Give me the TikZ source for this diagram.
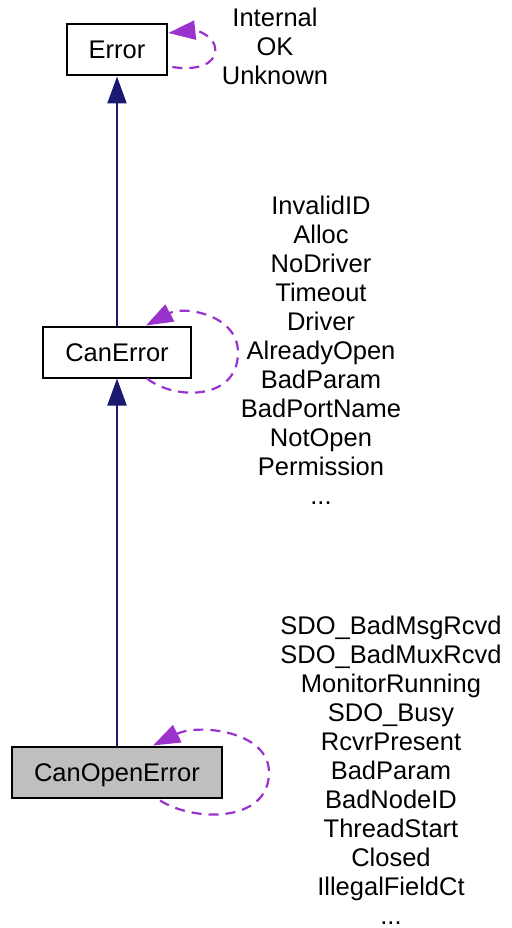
\documentclass[tikz,border=0pt]{standalone}
\usepackage{fontspec}
\setmainfont{Liberation Sans}
\usetikzlibrary{arrows.meta,calc}
\definecolor{inhblue}{HTML}{191970}
\definecolor{usepurple}{HTML}{9A32CD}
\definecolor{boxgray}{HTML}{BFBFBF}
\tikzset{every node/.style={font=\fontsize{25.5}{29}\selectfont},
  classbox/.style={draw, line width=2pt, rectangle, minimum height=51pt,
    inner xsep=22pt, text height=18pt, text depth=0pt},
  inherit/.style={inhblue, line width=2.2pt, -{Triangle[length=27pt,width=19pt]}},
  uses/.style={usepurple, line width=2.2pt, dash pattern=on 10pt off 7pt,
    -{Triangle[length=27pt,width=19pt]}},
  members/.style={align=center, anchor=base, inner sep=0pt}}

\begin{document}
\begin{tikzpicture}[x=1pt, y=-1pt]

           \useasboundingbox (0,0) rectangle (511,928);

           \node (error) [classbox] at (117,50) {Error};
           \node (canerror) [classbox] at (117,352) {CanError};
           \node (canopen) [classbox, fill=boxgray] at (117,772) {CanOpenError};

           \draw[inherit] (canerror) -- (error);
           \draw[inherit] (canopen) -- (canerror);

           % enum members (placed by the baseline of their last line)
           \draw[uses] ($(error.east)+(4,17)$) .. controls +(25,4) and +(0,14) .. ++(43,-17)
             .. controls +(0,-14) and +(28,-3) .. ($(error.east)+(0,-17)$);
           \node (errvals) [members] at (275,85) {Internal\\OK\\Unknown};

           \draw[uses] ($(canerror.south)+(30,0)$) .. controls +(28,22) and +(0,48) .. ++(91,-26)
             .. controls +(0,-38) and +(38,-20) .. ($(canerror.north)+(29,0)$);
           \node (canvals) [members] at (321,504) {InvalidID\\Alloc\\NoDriver\\Timeout\\Driver\\AlreadyOpen\\BadParam\\BadPortName\\NotOpen\\Permission\\...};

           \draw[uses] ($(canopen.south)+(43,2)$) .. controls +(35,22) and +(0,50) .. ++(109,-28)
             .. controls +(0,-42) and +(45,-22) .. ($(canopen.north)+(36,0)$);
           \node (openvals) [members] at (391,924) {SDO\_BadMsgRcvd\\SDO\_BadMuxRcvd\\MonitorRunning\\SDO\_Busy\\RcvrPresent\\BadParam\\BadNodeID\\ThreadStart\\Closed\\IllegalFieldCt\\...};

         \end{tikzpicture}
\end{document}
